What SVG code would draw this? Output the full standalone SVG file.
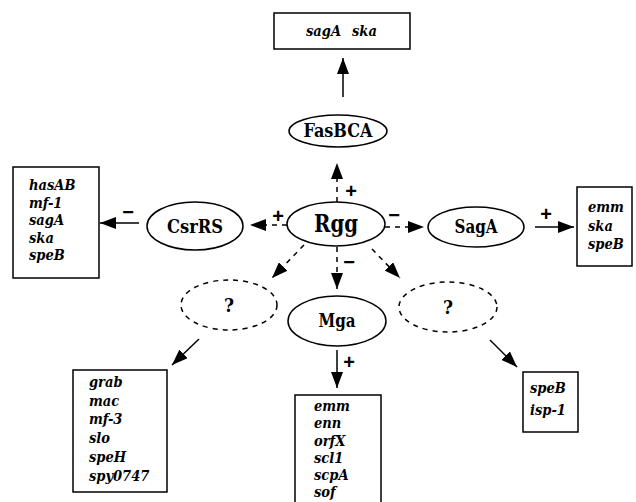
<svg xmlns="http://www.w3.org/2000/svg" width="636" height="502" viewBox="0 0 636 502">
<defs>
<marker id="ah" markerUnits="userSpaceOnUse" markerWidth="16" markerHeight="12" refX="16" refY="6" orient="auto">
<path d="M0,0 L16,6 L0,12 z" fill="#000"/>
</marker>
<style>
.box{fill:#fff;stroke:#000;stroke-width:1.5}
.ell{fill:#fff;stroke:#000;stroke-width:1.5}
.dell{fill:#fff;stroke:#000;stroke-width:1.5;stroke-dasharray:5,5}
.gene{font-family:'DejaVu Serif',serif;font-stretch:condensed;font-weight:bold;font-style:italic;font-size:14.5px}
.lab{font-family:'DejaVu Serif',serif;font-stretch:condensed;font-weight:bold;font-size:18px;text-anchor:middle}
.sign{font-family:'Liberation Sans',Arial,sans-serif;font-weight:bold;font-size:20px;text-anchor:middle}
.solid{stroke:#000;stroke-width:1.5;fill:none;marker-end:url(#ah)}
.dash{stroke:#000;stroke-width:1.5;fill:none;stroke-dasharray:5,5;marker-end:url(#ah)}
</style>
</defs>
<rect width="636" height="502" fill="#fff"/>
<g id="connectors">
<line class="solid" x1="343" y1="97" x2="343" y2="58"/>
<line class="dash" x1="337" y1="202" x2="337" y2="163"/>
<line class="dash" x1="287" y1="225" x2="250" y2="225"/>
<line class="solid" x1="139" y1="223" x2="100" y2="223"/>
<line class="dash" x1="385" y1="227" x2="424" y2="227"/>
<line class="solid" x1="535" y1="227" x2="574" y2="227"/>
<line class="dash" x1="337" y1="247" x2="337" y2="289"/>
<line class="solid" x1="337" y1="350" x2="337" y2="388"/>
<line class="dash" x1="304" y1="245" x2="272" y2="278"/>
<line class="dash" x1="372" y1="249" x2="400" y2="278"/>
<line class="solid" x1="199" y1="339" x2="172" y2="365"/>
<line class="solid" x1="490" y1="340" x2="517" y2="367"/>
<text class="sign" x="351" y="198">+</text>
<text class="sign" x="278" y="223">+</text>
<text class="sign" x="128" y="219">−</text>
<text class="sign" x="394" y="222">−</text>
<text class="sign" x="546" y="221">+</text>
<text class="sign" x="349" y="269">−</text>
<text class="sign" x="349" y="369">+</text>
</g>
<g id="box-top">
<rect class="box" x="274" y="13" width="136" height="36"/>
<text class="gene" x="306" y="36">sagA</text>
<text class="gene" x="352" y="36">ska</text>
</g>
<g id="fasbca">
<ellipse class="ell" cx="338" cy="131" rx="49" ry="16"/>
<text class="lab" x="338" y="137" textLength="69" lengthAdjust="spacingAndGlyphs">FasBCA</text>
</g>
<g id="rgg">
<ellipse class="ell" cx="336" cy="224" rx="49" ry="22"/>
<text class="lab" x="336" y="232" style="font-size:24px" textLength="44" lengthAdjust="spacingAndGlyphs">Rgg</text>
</g>
<g id="csrrs">
<ellipse class="ell" cx="195" cy="226" rx="48" ry="24"/>
<text class="lab" x="195" y="233" style="font-size:19px" textLength="56" lengthAdjust="spacingAndGlyphs">CsrRS</text>
</g>
<g id="box-left">
<rect class="box" x="13" y="167" width="86" height="111"/>
<text class="gene" x="29" y="190">hasAB</text>
<text class="gene" x="29" y="207.5">mf-1</text>
<text class="gene" x="29" y="225">sagA</text>
<text class="gene" x="29" y="242.5">ska</text>
<text class="gene" x="29" y="260">speB</text>
</g>
<g id="saga">
<ellipse class="ell" cx="476" cy="227" rx="48" ry="20"/>
<text class="lab" x="476" y="233" textLength="43" lengthAdjust="spacingAndGlyphs">SagA</text>
</g>
<g id="box-right">
<rect class="box" x="577" y="187" width="55" height="79"/>
<text class="gene" x="588" y="212">emm</text>
<text class="gene" x="588" y="231">ska</text>
<text class="gene" x="588" y="249">speB</text>
</g>
<g id="mga">
<ellipse class="ell" cx="337" cy="321" rx="49" ry="25"/>
<text class="lab" x="337" y="327" textLength="37" lengthAdjust="spacingAndGlyphs">Mga</text>
</g>
<g id="box-bottom">
<rect class="box" x="295" y="395" width="86" height="115"/>
<text class="gene" x="314" y="411">emm</text>
<text class="gene" x="314" y="428">enn</text>
<text class="gene" x="314" y="446">orfX</text>
<text class="gene" x="314" y="463">scl1</text>
<text class="gene" x="314" y="480">scpA</text>
<text class="gene" x="314" y="497">sof</text>
</g>
<g id="unknown-left">
<ellipse class="dell" cx="229" cy="305" rx="48" ry="25"/>
<text class="lab" x="229" y="312" style="font-size:19px">?</text>
</g>
<g id="box-bottom-left">
<rect class="box" x="73" y="370" width="94" height="122"/>
<text class="gene" x="89" y="387">grab</text>
<text class="gene" x="89" y="406">mac</text>
<text class="gene" x="89" y="424">mf-3</text>
<text class="gene" x="89" y="443">slo</text>
<text class="gene" x="89" y="462">speH</text>
<text class="gene" x="89" y="481">spy0747</text>
</g>
<g id="unknown-right">
<ellipse class="dell" cx="448" cy="307" rx="49" ry="25"/>
<text class="lab" x="448" y="314" style="font-size:19px">?</text>
</g>
<g id="box-bottom-right">
<rect class="box" x="523" y="372" width="55" height="60"/>
<text class="gene" x="530" y="393">speB</text>
<text class="gene" x="530" y="415">isp-1</text>
</g>
</svg>
